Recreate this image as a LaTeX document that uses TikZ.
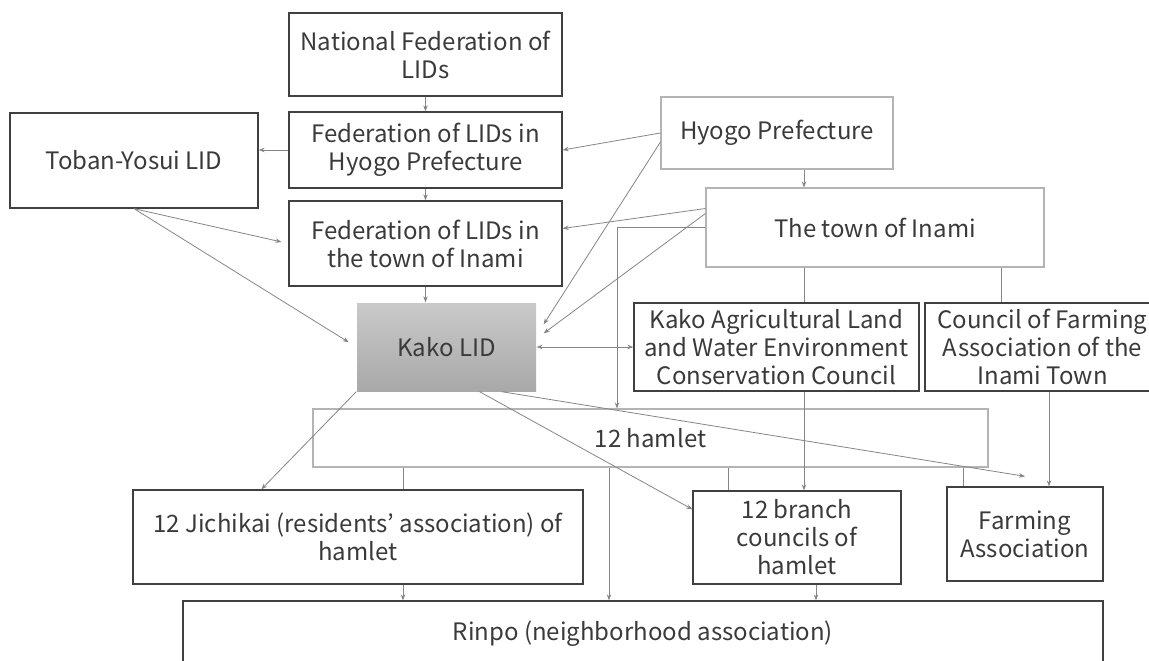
\documentclass[tikz,border=0pt]{standalone}
\usepackage{fontspec}
\setmainfont{Noto Sans CJK JP}
\usetikzlibrary{arrows.meta,positioning,calc}

\definecolor{boxline}{HTML}{404040}
\definecolor{lightline}{HTML}{B4B4B4}
\definecolor{linkgray}{HTML}{858585}
\definecolor{txtgray}{HTML}{3A3A3A}

\begin{document}
\begin{tikzpicture}[x=1pt,y=-1pt,>={Stealth[length=6pt,width=4.5pt]},
  link/.style={linkgray,line width=0.8pt},
  org/.style={draw=boxline,line width=1.3pt,text=txtgray,align=center,inner sep=0pt,
    font=\fontsize{24}{28}\selectfont},
  light org/.style={org,draw=lightline,line width=1.1pt},
  main org/.style={org,draw=none,top color=black!21,bottom color=black!34}]

  \clip (0,0) rectangle (1149,661);

  % organisations
  \node[org,minimum width=273pt,minimum height=83pt] (natfed) at (425.5,54.5) {National Federation of\\LIDs};
  \node[org,minimum width=273pt,minimum height=76pt] (fedhyogo) at (425.5,150) {Federation of LIDs in\\Hyogo Prefecture};
  \node[org,minimum width=273pt,minimum height=85pt] (fedinami) at (425.5,243.5) {Federation of LIDs in\\the town of Inami};
  \node[org,minimum width=248pt,minimum height=95pt] (toban) at (134,160.5) {Toban-Yosui LID};
  \node[light org,minimum width=232pt,minimum height=72pt] (hyogo) at (777,133) {Hyogo Prefecture};
  \node[light org,minimum width=338pt,minimum height=79pt] (town) at (875,227.5) {The town of Inami};
  \node[main org,minimum width=179pt,minimum height=88pt] (kakolid) at (446.5,347) {Kako LID};
  \node[org,minimum width=285pt,minimum height=88pt] (kakoagri) at (776.5,347) {Kako Agricultural Land\\and Water Environment\\Conservation Council};
  \node[org,minimum width=235pt,minimum height=88pt] (council) at (1042.5,347) {Council of Farming\\Association of the\\Inami Town};
  \node[light org,minimum width=675pt,minimum height=58pt] (hamlet) at (650.5,438) {12 hamlet};
  \node[org,minimum width=450pt,minimum height=94pt] (jichikai) at (358,537) {12 Jichikai (residents' association) of\\hamlet};
  \node[org,minimum width=208pt,minimum height=93pt] (branch) at (797,537.5) {12 branch\\councils of\\hamlet};
  \node[org,minimum width=156pt,minimum height=94pt] (farming) at (1025,534) {Farming\\Association};
  \node[org,minimum width=920pt,minimum height=66pt] (rinpo) at (643,634) {Rinpo (neighborhood association)};

  % columns of the vertical links
  \coordinate (colA) at (804,0);
  \coordinate (colB) at (1001,0);
  \coordinate (colC) at (1049,0);
  \coordinate (colD) at (617,0);
  \coordinate (colE) at (609,0);
  \coordinate (colF) at (403,0);
  \coordinate (colG) at (728,0);
  \coordinate (colH) at (963,0);
  \coordinate (colI) at (816,0);
  \coordinate (fatip) at ($(farming.north)+(0,-10)$);

  \path[link,->]
    (natfed) edge (fedhyogo)
    (fedhyogo) edge (fedinami)
    (fedinami) edge (fedinami |- kakolid.north)
    (fedhyogo) edge (fedhyogo -| toban.east)
    (toban.south) edge[shorten >=7pt] (fedinami.west)
    (toban.south) edge[shorten >=9pt] (kakolid.west)
    (hyogo.west) edge (fedhyogo.east)
    ($(hyogo.west)+(0,9)$) edge ($(kakolid.north east)+(7,22)$)
    ($(town.west)+(0,-19)$) edge ($(fedinami.east)+(0,-15)$)
    ($(town.west)+(0,-14)$) edge ($(kakolid.north east)+(7,31)$)
    (hyogo.south -| colA) edge (town.north -| colA)
    (kakoagri.south -| colA) edge (branch.north -| colA)
    (council.south -| colC) edge (farming.north -| colC)
    (kakolid.south west) edge ($(jichikai.north west)+(129,0)$)
    ($(kakolid.south)+(33,0)$) edge ($(branch.north west)+(0,19)$)
    ($(kakolid.south)+(55,0)$) edge (fatip)
    (hamlet.south -| colE) edge (rinpo.north -| colE)
    (jichikai.south -| colF) edge (rinpo.north -| colF)
    (branch.south -| colI) edge (rinpo.north -| colI)
    (kakolid) edge[<->] (kakoagri);

  \path[link]
    (town.south -| colA) edge (kakoagri.north -| colA)
    (town.south -| colB) edge (council.north -| colB)
    (hamlet.south -| colF) edge (jichikai.north -| colF)
    (hamlet.south -| colG) edge (branch.north -| colG)
    (hamlet.south -| colH) edge (farming.north -| colH);

  \draw[link,->] (town.west) -| (hamlet.north -| colD);
\end{tikzpicture}
\end{document}
